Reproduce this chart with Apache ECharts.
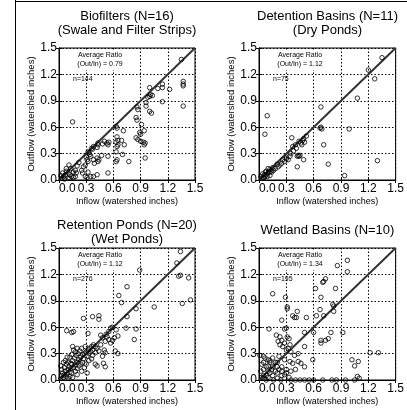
<!DOCTYPE html>
<html>
<head>
<meta charset="utf-8">
<script src="https://cdn.jsdelivr.net/npm/echarts@6/dist/echarts.min.js"></script>
<style>
  html, body { margin: 0; padding: 0; background: #fff; }
  #chart { width: 407px; height: 410px; }
</style>
</head>
<body>
<div id="chart"></div>
<script>
const axisTicks = [0.0, 0.3, 0.6, 0.9, 1.2, 1.5];
const unityLine = [[0, 0], [1.5, 1.5]];

const panelTitles = [
  ["Biofilters (N=16)", "(Swale and Filter Strips)"],
  ["Detention Basins (N=11)", "(Dry Ponds)"],
  ["Retention Ponds (N=20)", "(Wet Ponds)"],
  ["Wetland Basins (N=10)"],
];
const avgRatios = ["0.79", "1.12", "1.12", "1.34"];
const sampleCounts = [144, 75, 276, 195];

const biofilterPts = [
  [0.15, 0.66], [1.09, 1.04], [1.14, 1.09], [1.14, 1.05], [1.22, 1.03], [1.37, 1.12], [1.37, 1.09],
  [1.37, 1.07], [1.37, 0.84], [1.14, 0.89], [1.01, 0.97], [1.03, 0.96], [1.0, 0.95], [0.98, 0.94],
  [1.0, 1.05], [0.96, 0.88], [0.96, 0.84], [1.0, 0.78], [1.02, 0.76], [0.86, 0.83], [0.87, 0.8],
  [0.85, 0.71], [0.86, 0.68], [0.91, 0.63], [0.89, 0.54], [0.9, 0.52], [0.94, 0.56], [0.85, 0.48],
  [0.87, 0.46], [0.9, 0.44], [0.93, 0.43], [0.95, 0.42], [0.94, 0.4], [0.95, 0.25], [0.63, 0.61],
  [0.64, 0.59], [0.71, 0.56], [0.64, 0.49], [0.65, 0.45], [0.63, 0.43], [0.65, 0.4], [0.64, 0.38],
  [0.69, 0.45], [0.72, 0.4], [0.63, 0.32], [0.64, 0.23], [0.63, 0.21], [0.7, 0.29], [0.77, 0.21],
  [0.54, 0.4], [0.55, 0.43], [0.53, 0.42], [0.5, 0.44], [0.48, 0.41], [0.43, 0.4], [0.43, 0.42],
  [0.42, 0.37], [0.38, 0.38], [0.37, 0.35], [0.32, 0.32], [0.34, 0.29], [0.35, 0.27], [0.42, 0.25],
  [0.43, 0.21], [0.44, 0.23], [0.47, 0.28], [0.54, 0.27], [0.38, 0.23], [0.39, 0.19], [0.31, 0.23],
  [0.32, 0.21], [0.29, 0.17], [0.27, 0.15], [0.25, 0.11], [0.26, 0.08], [0.32, 0.09], [0.35, 0.04],
  [0.38, 0.04], [0.29, 0.04], [0.31, 0.03], [0.42, 0.06], [0.54, 0.08], [0.18, 0.11], [0.19, 0.08],
  [0.16, 0.09], [0.08, 0.1], [0.1, 0.08], [0.12, 0.06], [0.14, 0.04], [0.05, 0.04], [0.07, 0.06],
  [0.1, 0.02], [0.16, 0.03], [0.18, 0.04], [0.03, 0.02], [0.13, 0.13], [0.11, 0.17], [0.08, 0.13],
  [0.36, 0.36], [0.33, 0.31], [0.3, 0.26], [0.22, 0.2], [0.2, 0.16], [0.12, 0.02], [0.06, 0.01],
  [0.02, 0.05], [0.04, 0.08], [1.35, 1.37],
];

const detentionPts = [
  [0.09, 0.73], [0.065, 0.52], [0.68, 0.83], [0.67, 0.59], [0.68, 0.6], [0.69, 0.58], [0.71, 0.4],
  [0.76, 0.18], [0.99, 0.58], [1.08, 0.93], [1.27, 1.15], [1.3, 0.22], [0.94, 0.05], [1.2, 1.25],
  [1.35, 1.39], [0.36, 0.48], [0.46, 0.42], [0.48, 0.45], [0.5, 0.43], [0.49, 0.47], [0.47, 0.4],
  [0.41, 0.36], [0.38, 0.33], [0.43, 0.28], [0.44, 0.27], [0.42, 0.27], [0.45, 0.28], [0.49, 0.23],
  [0.42, 0.15], [0.35, 0.3], [0.34, 0.27], [0.32, 0.23], [0.3, 0.24], [0.28, 0.21], [0.25, 0.19],
  [0.23, 0.17], [0.21, 0.15], [0.18, 0.13], [0.16, 0.11], [0.14, 0.09], [0.12, 0.12], [0.1, 0.08],
  [0.08, 0.06], [0.065, 0.04], [0.05, 0.03], [0.03, 0.02], [0.1, 0.13], [0.08, 0.1], [0.06, 0.06],
  [0.02, 0.04], [0.2, 0.18], [0.15, 0.14], [0.13, 0.1], [0.11, 0.09], [0.3, 0.26], [0.26, 0.23],
  [0.37, 0.38], [0.4, 0.4], [0.44, 0.44], [0.52, 0.5], [0.07, 0.09], [0.04, 0.07], [0.05, 0.02],
  [0.09, 0.04], [0.12, 0.05],
];

const retentionPts = [
  [1.34, 1.46], [1.3, 1.33], [1.32, 1.18], [1.34, 1.19], [1.43, 1.16], [1.36, 0.87], [1.45, 0.91],
  [1.05, 0.83], [0.89, 1.25], [0.75, 1.06], [0.66, 0.96], [0.69, 0.88], [0.75, 0.72], [0.85, 0.81],
  [0.27, 0.7], [0.37, 0.72], [0.44, 0.73], [0.44, 0.69], [0.085, 0.56], [0.14, 0.54], [0.16, 0.55],
  [0.32, 0.53], [0.57, 0.59], [0.63, 0.57], [0.65, 0.5], [0.74, 0.59], [0.85, 0.58], [0.83, 0.46],
  [0.46, 0.51], [0.48, 0.48], [0.53, 0.49], [0.55, 0.46], [0.59, 0.45], [0.61, 0.48], [0.51, 0.44],
  [0.57, 0.42], [0.46, 0.4], [0.42, 0.36], [0.37, 0.34], [0.62, 0.33], [0.65, 0.3], [0.5, 0.34],
  [0.51, 0.31], [0.44, 0.33], [0.4, 0.31], [0.48, 0.27], [0.49, 0.19], [0.51, 0.15], [0.31, 0.08],
  [0.15, 0.38], [0.16, 0.34], [0.59, 0.6], [0.55, 0.55], [0.52, 0.52],
  [0.02, 0.02], [0.03, 0.05], [0.05, 0.03], [0.04, 0.08], [0.06, 0.06], [0.08, 0.04], [0.07, 0.1],
  [0.09, 0.07], [0.1, 0.12], [0.12, 0.09], [0.11, 0.15], [0.13, 0.13], [0.14, 0.18], [0.16, 0.14],
  [0.15, 0.22], [0.18, 0.17], [0.17, 0.25], [0.2, 0.2], [0.19, 0.28], [0.22, 0.23], [0.21, 0.3],
  [0.24, 0.26], [0.23, 0.33], [0.26, 0.29], [0.25, 0.36], [0.28, 0.3], [0.27, 0.24], [0.3, 0.32],
  [0.29, 0.38], [0.32, 0.34], [0.31, 0.27], [0.34, 0.36], [0.33, 0.3], [0.36, 0.38], [0.35, 0.32],
  [0.38, 0.4], [0.37, 0.28], [0.4, 0.38], [0.12, 0.04], [0.14, 0.08], [0.18, 0.1], [0.2, 0.13],
  [0.22, 0.16], [0.24, 0.18], [0.26, 0.2], [0.1, 0.2], [0.08, 0.18], [0.06, 0.14], [0.05, 0.2],
  [0.12, 0.26], [0.14, 0.29], [0.1, 0.02], [0.15, 0.03], [0.2, 0.06], [0.25, 0.1], [0.28, 0.14],
  [0.3, 0.18], [0.33, 0.22], [0.36, 0.24], [0.4, 0.18], [0.42, 0.16], [0.03, 0.12], [0.02, 0.16],
  [0.07, 0.22], [0.09, 0.26], [0.18, 0.32], [0.2, 0.36], [0.13, 0.19],
];

const wetlandPts = [
  [0.86, 1.3], [0.97, 1.36], [0.97, 1.23], [0.62, 1.04], [0.7, 1.11], [0.73, 1.15], [0.71, 1.12],
  [0.84, 1.04], [0.15, 0.98], [0.29, 0.94], [0.68, 0.94], [0.81, 0.86], [0.82, 0.84], [0.31, 0.83],
  [0.31, 0.81], [0.67, 0.8], [0.71, 0.73], [0.63, 0.73], [0.82, 0.78], [0.37, 0.73], [0.39, 0.71],
  [0.42, 0.78], [0.41, 0.71], [0.52, 0.71], [0.25, 0.68], [0.11, 0.58], [0.5, 0.54], [0.6, 0.54],
  [0.79, 0.54], [0.92, 0.54], [0.76, 0.47], [0.73, 0.45], [0.68, 0.45], [0.68, 0.42], [0.5, 0.38],
  [0.19, 0.51], [0.23, 0.49], [0.25, 0.45], [0.21, 0.44], [0.23, 0.4], [0.26, 0.38], [0.28, 0.42],
  [0.3, 0.34], [0.32, 0.36], [0.34, 0.4], [0.31, 0.49], [0.33, 0.47], [0.28, 0.58], [0.3, 0.59],
  [0.35, 0.32], [0.39, 0.28], [0.43, 0.3], [0.01, 0.28], [0.05, 0.27], [0.065, 0.25], [0.1, 0.23],
  [0.28, 0.23], [0.34, 0.21], [0.37, 0.19], [0.43, 0.21], [0.46, 0.19], [0.59, 0.23], [0.5, 0.15],
  [1.02, 0.23], [1.09, 0.21], [1.05, 0.16], [1.22, 0.31], [1.31, 0.31], [1.08, 0.04], [1.1, 0.02],
  [0.35, 0.0], [0.45, 0.0], [0.55, 0.0], [0.6, 0.0], [0.7, 0.0], [0.8, 0.0], [0.85, 0.0],
  [0.95, 0.0], [1.05, 0.0], [0.4, 0.0], [0.5, 0.0],
  [0.05, 0.05], [0.1, 0.1], [0.15, 0.15], [0.2, 0.2], [0.08, 0.15], [0.12, 0.2], [0.05, 0.12],
  [0.15, 0.05], [0.2, 0.08], [0.25, 0.1], [0.3, 0.12], [0.1, 0.03], [0.2, 0.02], [0.25, 0.05],
  [0.05, 0.2], [0.15, 0.25], [0.2, 0.15], [0.3, 0.08], [0.35, 0.1], [0.4, 0.12], [0.18, 0.1],
  [0.22, 0.12], [0.12, 0.08], [0.03, 0.03], [0.06, 0.02], [0.02, 0.1], [0.08, 0.05], [0.14, 0.12],
  [0.25, 0.15], [0.1, 0.16], [0.03, 0.18], [0.18, 0.2], [0.28, 0.06], [0.33, 0.03], [0.16, 0.0],
  [0.24, 0.0], [0.08, 0.0], [0.12, 0.22], [0.22, 0.27],
];

const panelData = [biofilterPts, detentionPts, retentionPts, wetlandPts];

const grids = [
  { left: 59, top: 48, width: 136, height: 132 },
  { left: 259, top: 48, width: 137, height: 132 },
  { left: 59, top: 248, width: 136, height: 132 },
  { left: 259, top: 248, width: 137, height: 132 },
];
const titleTops = [16, 16, 225, 230];

const FONT = "Liberation Sans, Arial, Helvetica, sans-serif";

const chart = echarts.init(document.getElementById("chart"), undefined, { renderer: "canvas" });

const dotted = { color: "#000", type: [1.5, 2], width: 1 };

const xAxes = [];
const yAxes = [];
grids.forEach((g, i) => {
  xAxes.push({
    type: "value",
    gridIndex: i,
    min: 0,
    max: 1.5,
    interval: 0.3,
    name: "Inflow (watershed inches)",
    nameLocation: "middle",
    nameGap: 17,
    nameTextStyle: { fontFamily: FONT, fontSize: 9, color: "#000" },
    axisLine: { show: true, lineStyle: { color: "#000", width: 1 } },
    axisTick: { show: true, inside: true, length: 3, lineStyle: { color: "#000" } },
    axisLabel: {
      fontFamily: FONT, fontSize: 12, color: "#000", margin: 3,
      alignMinLabel: "left",
      formatter: (v) => axisTicks.includes(+v.toFixed(1)) ? v.toFixed(1) : "",
    },
    splitLine: { show: true, lineStyle: dotted },
  });
  // top edge ticks only
  xAxes.push({
    type: "value",
    gridIndex: i,
    position: "top",
    min: 0,
    max: 1.5,
    interval: 0.3,
    axisLine: { show: true, lineStyle: { color: "#000", width: 1 } },
    axisTick: { show: true, inside: true, length: 3, lineStyle: { color: "#000" } },
    axisLabel: { show: false },
    splitLine: { show: false },
  });
  yAxes.push({
    type: "value",
    gridIndex: i,
    min: 0,
    max: 1.5,
    interval: 0.3,
    name: "Outflow (watershed inches)",
    nameLocation: "middle",
    nameGap: 18,
    nameTextStyle: { fontFamily: FONT, fontSize: 9.5, color: "#000" },
    axisLine: { show: true, lineStyle: { color: "#000", width: 1 } },
    axisTick: { show: true, inside: true, length: 3, lineStyle: { color: "#000" } },
    axisLabel: {
      fontFamily: FONT, fontSize: 12, color: "#000", margin: 2,
      formatter: (v) => v.toFixed(1),
    },
    splitLine: { show: true, lineStyle: dotted },
  });
  yAxes.push({
    type: "value",
    gridIndex: i,
    position: "right",
    min: 0,
    max: 1.5,
    interval: 0.3,
    axisLine: { show: true, lineStyle: { color: "#000", width: 1 } },
    axisTick: { show: true, inside: true, length: 3, lineStyle: { color: "#000" } },
    axisLabel: { show: false },
    splitLine: { show: false },
  });
});

const series = [];
panelData.forEach((pts, i) => {
  series.push({
    type: "line",
    xAxisIndex: i * 2,
    yAxisIndex: i * 2,
    data: unityLine,
    symbol: "none",
    silent: true,
    lineStyle: { color: "#333", width: 2 },
    z: 3,
  });
  series.push({
    type: "scatter",
    xAxisIndex: i * 2,
    yAxisIndex: i * 2,
    data: pts,
    symbol: "circle",
    symbolSize: 4.5,
    itemStyle: { color: "rgba(255,255,255,0)", borderColor: "#000", borderWidth: 1 },
    z: 4,
  });
});

const graphics = [
  { type: "line", shape: { x1: 15.5, y1: 0, x2: 15.5, y2: 410 }, style: { stroke: "#000", lineWidth: 1 } },
  { type: "line", shape: { x1: 15, y1: 1.5, x2: 407, y2: 1.5 }, style: { stroke: "#000", lineWidth: 1 } },
];

grids.forEach((g, i) => {
  const cx = g.left + g.width / 2;
  panelTitles[i].forEach((line, k) => {
    graphics.push({
      type: "text",
      x: cx,
      y: titleTops[i] + k * 14,
      style: {
        text: line, fill: "#000", font: `13px ${FONT}`,
        align: "center", verticalAlign: "middle",
      },
    });
  });
  graphics.push({
    type: "text",
    x: g.left + 41,
    y: g.top + 12,
    z: 10,
    style: {
      text: `Average Ratio\n(Out/In) = ${avgRatios[i]}`,
      fill: "#000", font: `7px ${FONT}`, align: "center", verticalAlign: "middle", lineHeight: 9,
      backgroundColor: "#fff", padding: [1, 2],
    },
  });
  graphics.push({
    type: "text",
    x: g.left + 14,
    y: g.top + 31,
    z: 10,
    style: {
      text: `n=${sampleCounts[i]}`, fill: "#000", font: `7px ${FONT}`,
      align: "left", verticalAlign: "middle",
    },
  });
});

chart.setOption({
  backgroundColor: "#fff",
  animation: false,
  grid: grids.map((g) => ({ ...g, show: true, borderColor: "#000", borderWidth: 1, backgroundColor: "transparent" })),
  xAxis: xAxes,
  yAxis: yAxes,
  series,
  graphic: graphics,
});

window.addEventListener("resize", () => chart.resize());
</script>
</body>
</html>
